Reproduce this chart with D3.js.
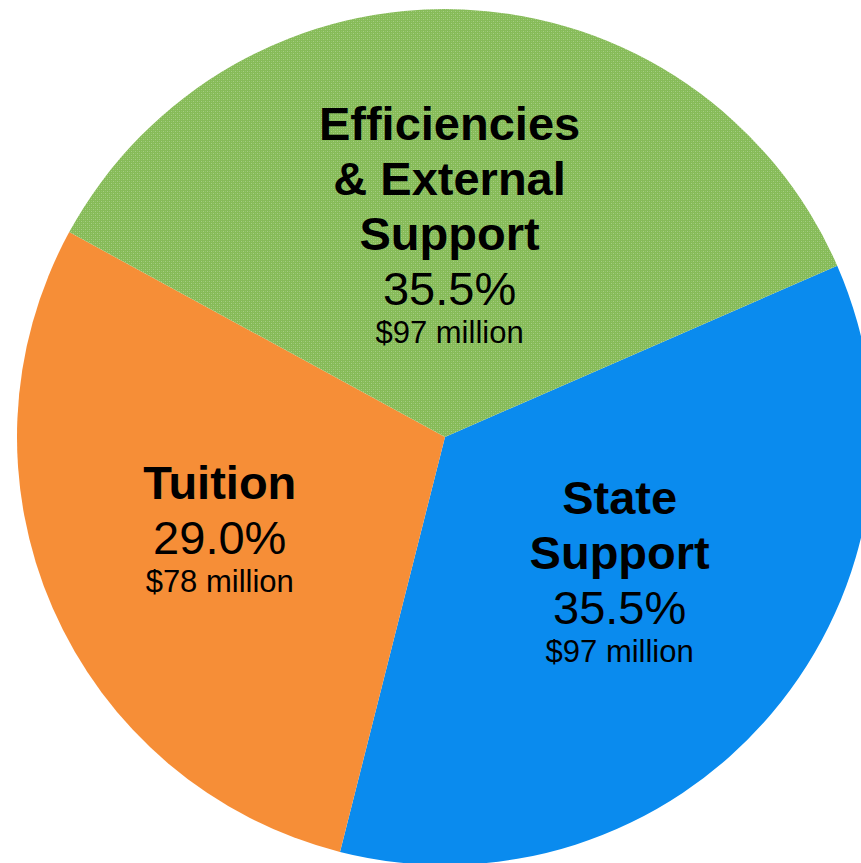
<!DOCTYPE html>
<html>
<head>
<meta charset="utf-8">
<script src="https://cdn.jsdelivr.net/npm/d3@7"></script>
<style>
  html, body { margin: 0; padding: 0; background: #fff; overflow: hidden; }
  svg { display: block; }
</style>
</head>
<body>
<div id="chart"></div>
<script>
// slice data, in drawing order (clockwise)
const names = [["State", "Support"], ["Tuition"], ["Efficiencies", "& External", "Support"]];
const shares = [35.5, 29.0, 35.5];
const amounts = ["$97 million", "$78 million", "$97 million"];
const colors = ["#0a8bee", "#f68e37", "url(#greenDots)"];

const width = 861;
const height = 863;
const cx = 445, cy = 437;
const radius = 428;

const svg = d3.select("#chart")
    .append("svg")
    .attr("width", width)
    .attr("height", height);

// dotted texture for the green slice
const pat = svg.append("defs").append("pattern")
    .attr("id", "greenDots")
    .attr("patternUnits", "userSpaceOnUse")
    .attr("width", 4)
    .attr("height", 4);
pat.append("rect").attr("width", 4).attr("height", 4).attr("fill", "#86bb58");
pat.append("rect").attr("x", 0).attr("y", 0).attr("width", 1).attr("height", 1).attr("fill", "#a6ce84");
pat.append("rect").attr("x", 2).attr("y", 2).attr("width", 1).attr("height", 1).attr("fill", "#a6ce84");
pat.append("rect").attr("x", 2).attr("y", 0).attr("width", 1).attr("height", 1).attr("fill", "#94c46b");
pat.append("rect").attr("x", 0).attr("y", 2).attr("width", 1).attr("height", 1).attr("fill", "#94c46b");

const g = svg.append("g")
    .attr("transform", `translate(${cx},${cy})`);

const start = 66.4 * Math.PI / 180;
const pie = d3.pie()
    .sort(null)
    .value(d => d)
    .startAngle(start)
    .endAngle(start + 2 * Math.PI);

const arcs = pie(shares);

const arc = d3.arc()
    .innerRadius(0)
    .outerRadius(radius);

g.selectAll("path.slice")
    .data(arcs)
    .enter()
    .append("path")
    .attr("class", "slice")
    .attr("d", arc)
    .attr("fill", (d, i) => colors[i]);

// label placement: distance from centre plus a small nudge
const labelR = [229, 248, 196];
const nudge = [[0, 3], [2, 9], [-4, 0]];

const boldStep = 55, pctStep = 55, amtStep = 38;

arcs.forEach((d, i) => {
    const mid = (d.startAngle + d.endAngle) / 2;
    const lx = Math.sin(mid) * labelR[i] + nudge[i][0];
    const ly = -Math.cos(mid) * labelR[i] + nudge[i][1];

    const lines = [];
    let y = 0;
    names[i].forEach((t, k) => {
        if (k > 0) y += boldStep;
        lines.push({ text: t, y: y, size: 47, weight: "bold" });
    });
    y += pctStep;
    lines.push({ text: shares[i].toFixed(1) + "%", y: y, size: 47, weight: "normal" });
    y += amtStep;
    lines.push({ text: amounts[i], y: y, size: 31, weight: "normal" });

    const off = ly - y / 2;

    g.append("g")
        .selectAll("text")
        .data(lines)
        .enter()
        .append("text")
        .attr("x", lx)
        .attr("y", l => off + l.y)
        .attr("text-anchor", "middle")
        .style("font-family", "'Liberation Sans', Arial, sans-serif")
        .style("font-size", l => l.size + "px")
        .style("font-weight", l => l.weight)
        .attr("fill", "#000")
        .text(l => l.text);
});
</script>
</body>
</html>
